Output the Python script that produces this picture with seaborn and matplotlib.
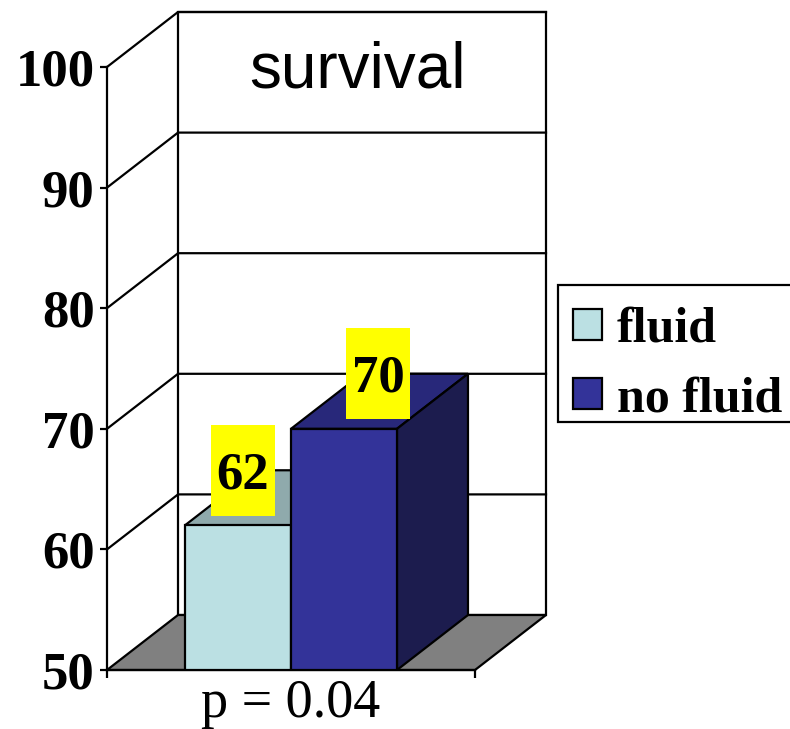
import matplotlib
matplotlib.use("Agg")
import matplotlib.pyplot as plt
import pandas as pd
import seaborn as sns
from matplotlib.patches import Polygon, Rectangle
from matplotlib.transforms import ScaledTranslation

# --- data -------------------------------------------------------------
conditions = ["fluid", "no fluid"]
survival = [62, 70]
group_labels = ["p = 0.04"]
y_ticks = [50, 60, 70, 80, 90, 100]
chart_title = "survival"

# --- style ------------------------------------------------------------
front_colors = ["#BBE0E3", "#333399"]
top_colors = ["#8FAAAC", "#28287A"]
side_colors = ["#6F8A8C", "#1C1C4E"]
floor_color = "#808080"
label_shift_px = [5, 34]
LW = 1.6

plt.rcParams["font.family"] = ["Liberation Serif", "DejaVu Serif"]

df = pd.DataFrame({
    "group": group_labels * len(conditions),
    "condition": conditions,
    "survival": survival,
})

W, H, DPI = 790, 729, 100
fig = plt.figure(figsize=(W / DPI, H / DPI), dpi=DPI)
ax = fig.add_axes([107 / W, 1 - 670 / H, (546 - 107) / W, (670 - 12) / H])

y0, y1 = y_ticks[0], y_ticks[-1]
depth_x = 71 / 368          # depth offset in category units
depth_y = 55 / (603 / 50)   # depth offset in value units

sns.barplot(data=df, x="group", y="survival", hue="condition",
            hue_order=conditions, palette=front_colors, saturation=1,
            width=0.576, edgecolor="black", linewidth=LW, errorbar=None,
            ax=ax, zorder=3)

# walls and floor of the 3-D box
ax.add_patch(Rectangle((-0.5 + depth_x, y0 + depth_y), 1.0, y1 - y0,
                       facecolor="white", edgecolor="black", lw=LW,
                       zorder=0.5, clip_on=False))
for v in y_ticks[1:]:
    ax.plot([-0.5, -0.5 + depth_x, 0.5 + depth_x],
            [v, v + depth_y, v + depth_y],
            color="black", lw=LW, zorder=0.8, clip_on=False)
ax.add_patch(Polygon([(-0.5, y0), (0.5, y0), (0.5 + depth_x, y0 + depth_y),
                      (-0.5 + depth_x, y0 + depth_y)], closed=True,
                     facecolor=floor_color, edgecolor="black", lw=LW,
                     zorder=1, clip_on=False))

# top and side faces of each bar, plus value labels
for i, cont in enumerate(ax.containers):
    for bar in cont:
        x0 = bar.get_x()
        x1 = x0 + bar.get_width()
        h = bar.get_y() + bar.get_height()
        ax.add_patch(Polygon([(x0, h), (x1, h), (x1 + depth_x, h + depth_y),
                              (x0 + depth_x, h + depth_y)], closed=True,
                             facecolor=top_colors[i], edgecolor="black",
                             lw=LW, zorder=2))
        ax.add_patch(Polygon([(x1, y0), (x1, h), (x1 + depth_x, h + depth_y),
                              (x1 + depth_x, y0 + depth_y)], closed=True,
                             facecolor=side_colors[i], edgecolor="black",
                             lw=LW, zorder=2))
        cx = x0 + bar.get_width() / 2
        trans = fig.dpi_scale_trans + ScaledTranslation(cx, h + depth_y, ax.transData)
        s = label_shift_px[i]
        ax.add_patch(Rectangle(((s - 32) / DPI, -45.5 / DPI), 64 / DPI, 91 / DPI,
                               transform=trans, facecolor="#FFFF00",
                               edgecolor="none", zorder=6, clip_on=False))
        ax.text(s / DPI, -18 / DPI, f"{h:g}", transform=trans, ha="center",
                va="baseline", fontsize=38, fontweight="bold", zorder=7)

# title inside the back wall
ax.text(0.5695, 0.8845, chart_title, transform=ax.transAxes, ha="center",
        va="baseline", fontsize=46, family=["Liberation Sans", "DejaVu Sans"],
        zorder=6)

# axes
for side in ("top", "right"):
    ax.spines[side].set_visible(False)
for side in ("left", "bottom"):
    ax.spines[side].set_linewidth(LW)
    ax.spines[side].set_color("black")
    ax.spines[side].set_zorder(5)
ax.spines["left"].set_bounds(y0, y1)
ax.spines["bottom"].set_bounds(-0.5, 0.5)

ax.set_yticks(y_ticks)
ax.set_yticklabels([str(t) for t in y_ticks], fontsize=38, fontweight="bold")
ax.tick_params(axis="y", length=5, width=LW, pad=4, color="black")
ax.set_xticks([0], group_labels)
ax.set_xticks([-0.5, 0.5], minor=True)
ax.tick_params(axis="x", which="major", length=0, pad=6, labelsize=39)
ax.tick_params(axis="x", which="minor", length=6, width=LW, color="black")
ax.set_xlabel("")
ax.set_ylabel("")

# legend: entries without frame, box drawn separately
handles, labels = ax.get_legend_handles_labels()
if ax.get_legend() is not None:
    ax.get_legend().remove()
leg = fig.legend(handles, labels, loc="upper left",
                 bbox_to_anchor=(558 / W, 1 - 292 / H),
                 prop=dict(family="Liberation Serif", weight="bold", size=36),
                 frameon=False, handlelength=0.58, handleheight=0.58,
                 handletextpad=0.3, labelspacing=0.47, borderpad=0.3,
                 borderaxespad=0)
for hnd in leg.legend_handles:
    hnd.set_edgecolor("black")
    hnd.set_linewidth(LW)
fig.patches.append(Rectangle((558 / W, 1 - 422 / H), 240 / W, 137 / H,
                             transform=fig.transFigure, facecolor="white",
                             edgecolor="black", lw=LW, zorder=0))

ax.set_xlim(-0.5, 0.5 + depth_x)
ax.set_ylim(y0, y1 + depth_y)

fig.savefig("out.png", dpi=DPI)
